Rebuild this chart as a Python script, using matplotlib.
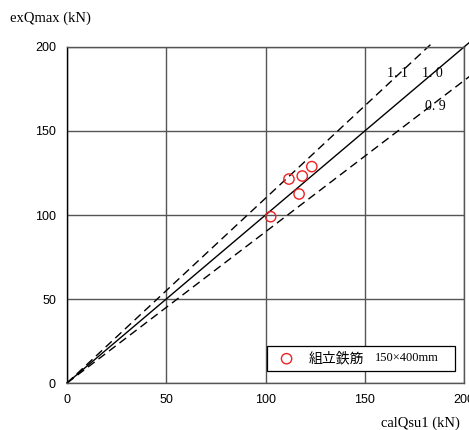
import numpy as np
import matplotlib
matplotlib.use('Agg')
import matplotlib.pyplot as plt

# === Data ===
cal_qsu = [102.6, 111.8, 118.5, 123.3, 116.9]   # calQsu1 (kN)
ex_qmax = [99.0, 121.4, 123.2, 128.8, 112.5]    # exQmax (kN)
ratios = [1.1, 1.0, 0.9]
ratio_labels = ['1. 1', '1. 0', '0. 9']
ticks = [0, 50, 100, 150, 200]

SERIF = ['Liberation Serif', 'Noto Sans CJK JP']
SANS = 'Liberation Sans'

fig = plt.figure(figsize=(4.69, 4.30), dpi=100)
ax = fig.add_axes([0.1429, 0.1093, 0.8465, 0.7814])

# --- ratio lines (run slightly past the frame like the original) ---
for r in ratios:
    xe = min(205.0, 202.5 / r)
    xs = np.array([0, xe])
    ls = '-' if r == 1.0 else (0, (6, 3.5))
    ax.plot(xs, r * xs, color='black', lw=1.0, ls=ls, zorder=2, clip_on=False)

# line labels
ax.text(166.7, 184.5, ratio_labels[0], family=SERIF, fontsize=10, ha='center', va='center')
ax.text(183.9, 184.5, ratio_labels[1], family=SERIF, fontsize=10, ha='center', va='center')
ax.text(185.4, 164.3, ratio_labels[2], family=SERIF, fontsize=10, ha='center', va='center')

# --- test data ---
pts = ax.scatter(cal_qsu, ex_qmax, s=55, facecolors='none', edgecolors='#ee2222',
                 linewidths=1.0, zorder=3, label='組立鉄筋')

ax.set_xlim(0, 200)
ax.set_ylim(0, 200)
ax.set_xticks(ticks)
ax.set_yticks(ticks)
ax.grid(True, color='#555555', lw=1.0)
ax.set_axisbelow(True)
for s in ax.spines.values():
    s.set_color('#555555')
    s.set_linewidth(1.0)
ax.spines['left'].set_color('black')
ax.tick_params(length=0, pad=8, labelsize=9)
for lab in ax.get_xticklabels() + ax.get_yticklabels():
    lab.set_family(SANS)

# axis titles
fig.text(10 / 469, 1 - 18 / 430, 'exQmax (kN)', family=SERIF, fontsize=10.5, ha='left', va='center')
fig.text(460 / 469, 1 - 423 / 430, 'calQsu1 (kN)', family=SERIF, fontsize=10.5, ha='right', va='center')

# legend
leg = ax.legend(handles=[pts], loc='center left', mode='expand',
                bbox_to_anchor=(0.504, 0.030, 0.473, 0.086), frameon=True,
                fancybox=False, edgecolor='black', framealpha=1,
                prop={'family': SERIF, 'size': 10}, handletextpad=0.6,
                borderaxespad=0)
leg.get_frame().set_linewidth(0.9)
ax.text(0.935, 0.073, '150×400mm', transform=ax.transAxes, family=SERIF, fontsize=9,
        ha='right', va='center', zorder=6)

plt.savefig('out.png', dpi=100)
